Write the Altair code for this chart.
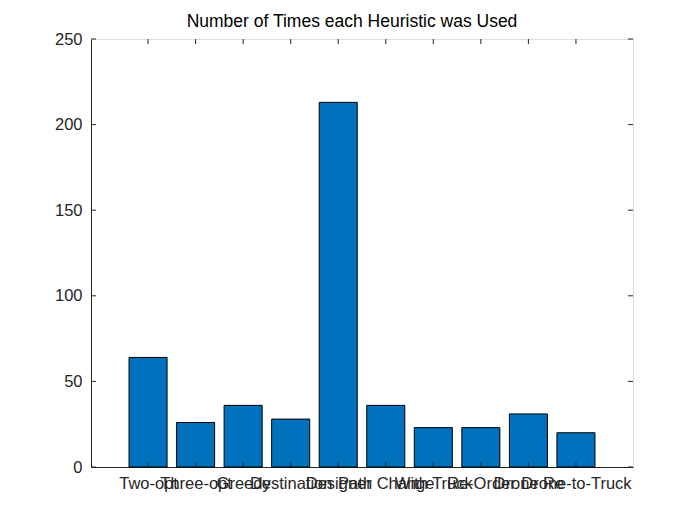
import altair as alt
import pandas as pd

heuristics = ["Two-opt", "Three-opt", "Greedy", "Destination", "Designer",
              "Path Change", "With Truck", "Re-Order", "Drone Re", "Drone-to-Truck"]
counts = [64, 26, 36, 28, 213, 36, 23, 23, 31, 20]
positions = list(range(1, len(heuristics) + 1))
y_ticks = [0, 50, 100, 150, 200, 250]

df = pd.DataFrame({"pos": positions, "name": heuristics, "count": counts})
df["lo"] = df["pos"] - 0.4
df["hi"] = df["pos"] + 0.4
yt = pd.DataFrame({"v": y_ticks})

W, H = 542, 428
AX = "#262626"
FONT = "Liberation Sans"

label_expr = "[" + ",".join(f"'{n}'" for n in heuristics) + "][datum.value - 1]"

xscale = alt.Scale(domain=[-0.2, 11.2], nice=False, zero=False)
yscale = alt.Scale(domain=[0, 250], nice=False)

bars = alt.Chart(df).mark_rect(fill="#0072BD", stroke="black", strokeWidth=1).encode(
    x=alt.X("lo:Q", scale=xscale,
            axis=alt.Axis(values=positions, labelExpr=label_expr, title=None,
                          tickSize=0, grid=False, domainColor=AX, labelColor=AX,
                          labelFont=FONT, labelFontSize=16.5, labelPadding=8,
                          labelOverlap=False, labelFlush=False, labelBound=False)),
    x2="hi:Q",
    y=alt.Y("count:Q", scale=yscale,
            axis=alt.Axis(values=y_ticks, title=None, tickSize=0, grid=False,
                          domainColor=AX, labelColor=AX, labelFont=FONT,
                          labelFontSize=16.5, labelPadding=9)),
    y2=alt.datum(0),
)

tick_style = dict(color=AX, strokeWidth=1)
left_ticks = alt.Chart(yt).mark_rule(**tick_style).encode(
    y=alt.Y("v:Q", scale=yscale), x=alt.value(0), x2=alt.value(5))
right_ticks = alt.Chart(yt).mark_rule(**tick_style).encode(
    y=alt.Y("v:Q", scale=yscale), x=alt.value(W - 5), x2=alt.value(W))
bottom_ticks = alt.Chart(df).mark_rule(**tick_style).encode(
    x=alt.X("pos:Q", scale=xscale), y=alt.value(H), y2=alt.value(H - 5))
top_ticks = alt.Chart(df).mark_rule(**tick_style).encode(
    x=alt.X("pos:Q", scale=xscale), y=alt.value(0), y2=alt.value(5))

chart = alt.layer(bars, left_ticks, right_ticks, bottom_ticks, top_ticks).properties(
    width=W, height=H,
    title=alt.TitleParams("Number of Times each Heuristic was Used", font=FONT,
                          fontSize=17.5, fontWeight="normal", color="black",
                          offset=1, dx=-10),
    autosize=alt.AutoSizeParams(type="none"),
    padding={"left": 83, "top": 31, "right": 50, "bottom": 50},
).configure_view(stroke=AX, strokeWidth=1).configure(background="white")

chart.save("out.html", embed_options={"renderer": "svg", "actions": False})
